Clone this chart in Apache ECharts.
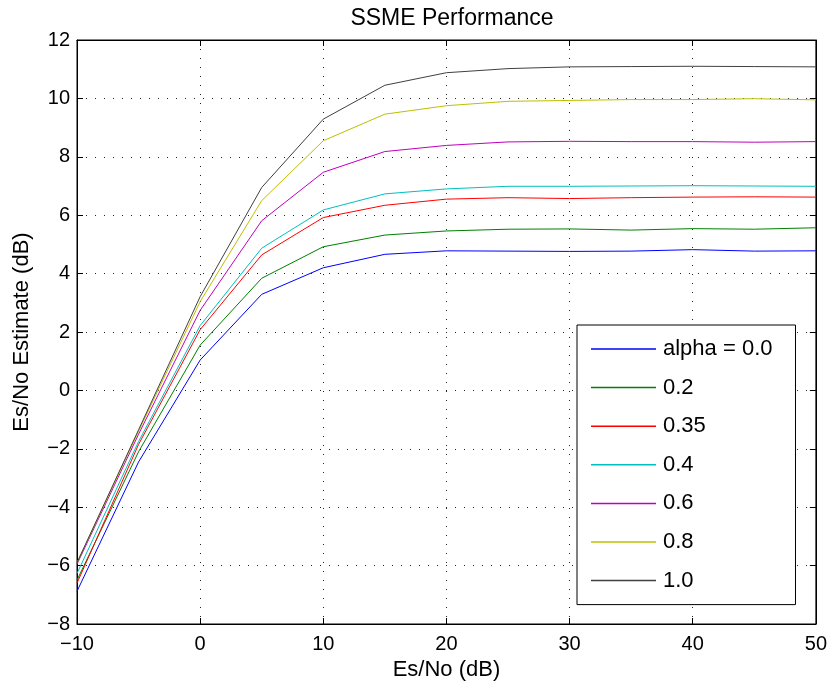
<!DOCTYPE html>
<html>
<head>
<meta charset="utf-8">
<script src="https://cdn.jsdelivr.net/npm/echarts@6/dist/echarts.min.js"></script>
<style>
  html, body { margin: 0; padding: 0; background: #fff; }
  #chart { width: 830px; height: 687px; }
</style>
</head>
<body>
<div id="chart"></div>
<script>
// Es/No in dB (x axis)
const esNo = [-10, -5, 0, 5, 10, 15, 20, 25, 30, 35, 40, 45, 50];

// Estimated Es/No (dB) for each roll-off factor alpha
const alpha00 = [-6.88, -2.45, 1.04, 3.29, 4.20, 4.66, 4.78, 4.77, 4.76, 4.77, 4.82, 4.77, 4.78];
const alpha02 = [-6.50, -2.10, 1.55, 3.84, 4.92, 5.32, 5.46, 5.52, 5.53, 5.49, 5.54, 5.52, 5.57];
const alpha035 = [-6.60, -1.85, 2.08, 4.64, 5.92, 6.34, 6.55, 6.60, 6.57, 6.60, 6.62, 6.63, 6.62];
const alpha04 = [-6.27, -1.75, 2.22, 4.87, 6.18, 6.73, 6.90, 6.99, 6.99, 7.00, 7.01, 7.00, 6.99];
const alpha06 = [-5.95, -1.50, 2.74, 5.81, 7.47, 8.18, 8.39, 8.51, 8.53, 8.52, 8.52, 8.50, 8.52];
const alpha08 = [-5.90, -1.40, 3.04, 6.50, 8.55, 9.46, 9.75, 9.90, 9.93, 9.96, 9.96, 9.99, 9.95];
const alpha10 = [-5.90, -1.35, 3.21, 6.95, 9.29, 10.45, 10.88, 11.02, 11.08, 11.09, 11.10, 11.09, 11.08];

const seriesNames = ['alpha = 0.0', '0.2', '0.35', '0.4', '0.6', '0.8', '1.0'];
const seriesValues = [alpha00, alpha02, alpha035, alpha04, alpha06, alpha08, alpha10];
const seriesColors = ['#0000ff', '#008000', '#ff0000', '#00bfbf', '#bf00bf', '#bfbf00', '#404040'];

const FONT = '"Liberation Sans", Arial, Helvetica, sans-serif';
const minus = v => String(v).replace('-', '\u2212');

const chart = echarts.init(document.getElementById('chart'));

const gridLine = { show: true, lineStyle: { color: '#222', width: 1, type: [1, 8] } };
const tickIn = { show: true, inside: true, length: 6, lineStyle: { color: '#000' } };
const boxLine = { show: true, onZero: false, lineStyle: { color: '#000' } };

const option = {
  animation: false,
  backgroundColor: '#fff',
  title: {
    text: 'SSME Performance',
    left: 447, top: 2, textAlign: 'center',
    textStyle: { fontFamily: FONT, fontSize: 23, fontWeight: 'normal', color: '#000' }
  },
  grid: {
    left: 77, right: 13, top: 40, bottom: 63,
    show: true, borderColor: '#000', borderWidth: 1, backgroundColor: '#fff'
  },
  xAxis: [{
    type: 'value', min: -10, max: 50, interval: 10,
    name: 'Es/No (dB)', nameLocation: 'middle', nameGap: 30,
    nameTextStyle: { fontFamily: FONT, fontSize: 22, color: '#000' },
    axisLine: boxLine,
    axisTick: tickIn,
    axisLabel: { fontFamily: FONT, fontSize: 20, color: '#000', margin: 10, formatter: minus },
    splitLine: gridLine
  }, {
    type: 'value', position: 'top', min: -10, max: 50, interval: 10,
    axisLine: boxLine,
    axisTick: tickIn, axisLabel: { show: false }, splitLine: { show: false }
  }],
  yAxis: [{
    type: 'value', min: -8, max: 12, interval: 2,
    name: 'Es/No Estimate (dB)', nameLocation: 'middle', nameGap: 44,
    nameTextStyle: { fontFamily: FONT, fontSize: 22, color: '#000' },
    axisLine: boxLine,
    axisTick: tickIn,
    axisLabel: { fontFamily: FONT, fontSize: 20, color: '#000', margin: 7, formatter: minus },
    splitLine: gridLine
  }, {
    type: 'value', position: 'right', min: -8, max: 12, interval: 2,
    axisLine: boxLine,
    axisTick: tickIn, axisLabel: { show: false }, splitLine: { show: false }
  }],
  legend: {
    orient: 'vertical',
    left: 577, top: 325,
    padding: [13, 23, 13, 14],
    itemGap: 16.6,
    itemWidth: 65, itemHeight: 1.5,
    icon: 'rect',
    backgroundColor: '#fff', borderColor: '#000', borderWidth: 1, borderRadius: 0,
    textStyle: { fontFamily: FONT, fontSize: 22, color: '#000', lineHeight: 22, padding: [0, 0, 0, 2] },
    data: seriesNames
  },
  series: seriesNames.map((name, i) => ({
    name: name,
    type: 'line',
    data: esNo.map((x, j) => [x, seriesValues[i][j]]),
    symbol: 'none',
    lineStyle: { color: seriesColors[i], width: 1 },
    itemStyle: { color: seriesColors[i] },
    z: 3
  }))
};

chart.setOption(option);
</script>
</body>
</html>
